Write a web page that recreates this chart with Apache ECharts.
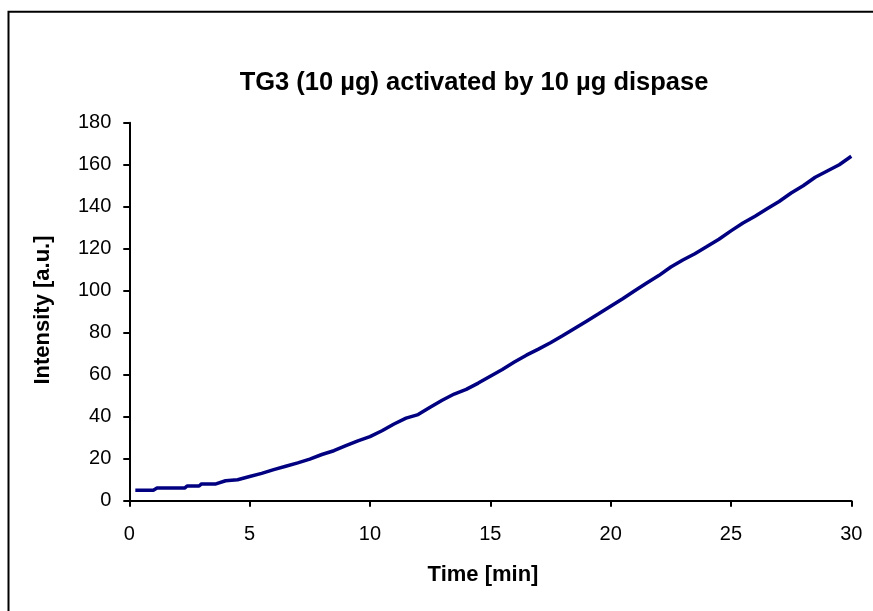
<!DOCTYPE html>
<html>
<head>
<meta charset="utf-8">
<script src="https://cdn.jsdelivr.net/npm/echarts@6/dist/echarts.min.js"></script>
<style>html,body{margin:0;padding:0;background:#fff;}#c{width:873px;height:611px;}</style>
</head>
<body>
<div id="c"></div>
<script>
const titleText = 'TG3 (10 µg) activated by 10 µg dispase';
const xTitle = 'Time [min]';
const yTitle = 'Intensity [a.u.]';
const xTicks = [0, 5, 10, 15, 20, 25, 30];
const yTicks = [0, 20, 40, 60, 80, 100, 120, 140, 160, 180];
const times = [0.25, 1.0, 1.15, 2.3, 2.4, 2.9, 3.0, 3.6, 4.0, 4.5, 5.0, 5.5, 6.0, 6.5, 7.0, 7.5, 8.0, 8.5, 9.0, 9.5,
  10.0, 10.5, 11.0, 11.5, 12.0, 12.5, 13.0, 13.5, 14.0, 14.5, 15.0, 15.5, 16.0, 16.5, 17.0, 17.5, 18.0, 18.5, 19.0, 19.5,
  20.0, 20.5, 21.0, 21.5, 22.0, 22.5, 23.0, 23.5, 24.0, 24.5, 25.0, 25.5, 26.0, 26.5, 27.0, 27.5, 28.0, 28.5, 29.0, 29.5, 30.0];
const intensity = [5, 5, 6, 6, 7, 7, 8, 8, 9.5, 10, 11.5, 13, 14.8, 16.4, 18, 19.8, 22, 23.8, 26.2, 28.5,
  30.5, 33.3, 36.5, 39.3, 41, 44.5, 47.8, 50.8, 53, 56, 59.3, 62.5, 66, 69.3, 72.2, 75.2, 78.5, 82, 85.5, 89,
  92.6, 96.2, 100, 103.7, 107.2, 111.3, 114.6, 117.6, 121, 124.5, 128.5, 132.2, 135.5, 139, 142.5, 146.5, 150, 154, 157, 160, 164];

const chart = echarts.init(document.getElementById('c'));
const F = 'Liberation Sans, Arial, sans-serif';
chart.setOption({
  animation: false,
  backgroundColor: '#fff',
  title: {
    text: titleText, left: 469, top: 65, textAlign: 'center',
    textStyle: {fontFamily: F, fontSize: 25.5, fontWeight: 'bold', color: '#000'}
  },
  grid: {left: 129.3, top: 122.7, right: 21.7, bottom: 110.3, containLabel: false},
  xAxis: {
    type: 'value', min: xTicks[0], max: xTicks[xTicks.length - 1], interval: 5,
    axisLine: {lineStyle: {color: '#000', width: 2}},
    axisTick: {show: true, length: 6, lineStyle: {color: '#000', width: 2}},
    axisLabel: {fontFamily: F, fontSize: 20, color: '#000', margin: 24},
    splitLine: {show: false}
  },
  yAxis: {
    type: 'value', min: yTicks[0], max: yTicks[yTicks.length - 1], interval: 20,
    axisLine: {show: true, lineStyle: {color: '#000', width: 2}},
    axisTick: {show: true, length: 6, lineStyle: {color: '#000', width: 2}},
    axisLabel: {fontFamily: F, fontSize: 20, color: '#000', margin: 18},
    splitLine: {show: false}
  },
  graphic: [
    {type: 'rect', shape: {x: 8.5, y: 11.8, width: 2000, height: 2000}, style: {fill: 'none', stroke: '#000', lineWidth: 2}, silent: true, z: -1},
    {type: 'text', x: 483, y: 575, style: {text: xTitle, font: 'bold 22px ' + F, fill: '#000', textAlign: 'center', textVerticalAlign: 'middle'}},
    {type: 'text', x: 42.5, y: 310, rotation: Math.PI / 2, style: {text: yTitle, font: 'bold 22px ' + F, fill: '#000', textAlign: 'center', textVerticalAlign: 'middle'}}
  ],
  series: [{
    type: 'line', data: times.map((t, i) => [t, intensity[i]]), showSymbol: false,
    lineStyle: {color: '#000080', width: 3.5}, itemStyle: {color: '#000080'}
  }]
});
</script>
</body>
</html>
